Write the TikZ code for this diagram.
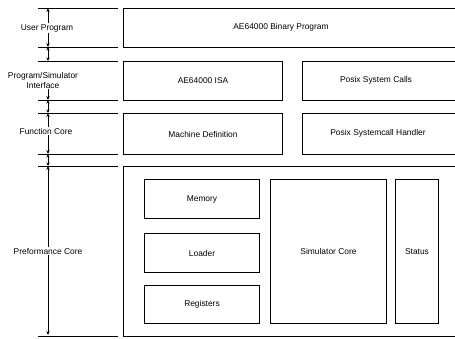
\documentclass[tikz,border=0pt]{standalone}
\usepackage{fontspec}
\setmainfont{Liberation Sans}
\usetikzlibrary{arrows.meta}
\begin{document}
\begin{tikzpicture}[x=1pt,y=-1pt,
  box/.style={draw, line width=1pt, inner sep=0pt, anchor=north west},
  txt/.style={font=\fontsize{8.4}{10}\selectfont, align=center, inner sep=1pt, fill=white},
  sep/.style={line width=1pt},
  arr/.style={-{Stealth[length=4pt,width=3.4pt]}, line width=0.8pt},
  darr/.style={{Stealth[length=3.5pt,width=3.2pt]}-{Stealth[length=3.5pt,width=3.2pt]}, line width=0.8pt}]
\useasboundingbox (0,0) rectangle (455,338);
\clip (0,0) rectangle (455,338);
% main boxes
\node[box, minimum width=340pt, minimum height=39pt] (bin) at (123,8) {};
\node[txt] at (281,27.5) {AE64000 Binary Program};
\node[box, minimum width=159pt, minimum height=39pt] (isa) at (123,61) {};
\node[txt] at (isa.center) {AE64000 ISA};
\node[box, minimum width=160pt, minimum height=39pt] (psc) at (302,61) {};
\node[txt] at (376,80.5) {Posix System Calls};
\node[box, minimum width=159pt, minimum height=41pt] (mdef) at (123,113) {};
\node[txt] at (mdef.center) {Machine Definition};
\node[box, minimum width=160pt, minimum height=41pt] (psh) at (302,113) {};
\node[txt] at (378,133.5) {Posix Systemcall Handler};
\node[box, minimum width=340pt, minimum height=170pt] (perf) at (123,166) {};
\node[box, minimum width=115pt, minimum height=39pt] (mem) at (144,179) {};
\node[txt] at (mem.center) {Memory};
\node[box, minimum width=115pt, minimum height=39pt] (load) at (144,233) {};
\node[txt] at (load.center) {Loader};
\node[box, minimum width=115pt, minimum height=38pt] (reg) at (144,285) {};
\node[txt] at (reg.center) {Registers};
\node[box, minimum width=116pt, minimum height=144pt] (sim) at (270,179) {};
\node[txt] at (sim.center) {Simulator Core};
\node[box, minimum width=43pt, minimum height=144pt] (stat) at (395,179) {};
\node[txt] at (stat.center) {Status};
% left separator lines
\foreach \yy in {8,47,61,100,113,154,166} \draw[sep] (38,\yy) -- (118,\yy);
\draw[sep] (38,336) -- (118,336);
% coordinates on the arrow axis
\foreach \yy/\nm in {8/a,47/b,61/c,100/d,113/e,154/f,166/g,335/h}
  \coordinate (\nm) at (48,\yy);
% layer labels
\node[txt] (up) at (47,28) {User Program};
\node[txt] (psi) at (43,80) {Program/Simulator\\Interface};
\node[txt] (fc) at (46,131) {Function Core};
\node[txt] (pc) at (48,251) {Preformance Core};
% arrows
\draw[arr] (a |- up.north) -- (a);
\draw[arr] (a |- up.south) -- (b);
\draw[darr] (b) -- (c);
\draw[arr] (a |- psi.south) -- (d);
\draw[darr] (d) -- (e);
\draw[arr] (a |- fc.north) -- (e);
\draw[arr] (a |- fc.south) -- (f);
\draw[darr] (f) -- (g);
\draw[arr] (a |- pc.north) -- (g);
\draw[arr] (a |- pc.south) -- (h);
\end{tikzpicture}
\end{document}
